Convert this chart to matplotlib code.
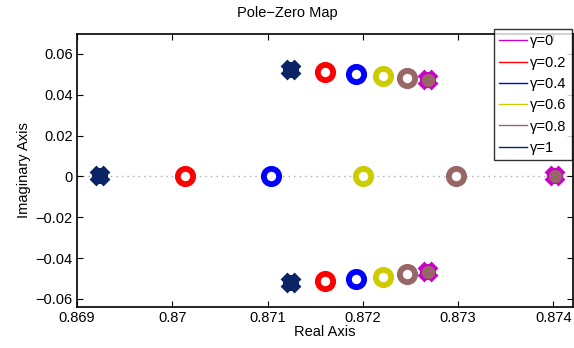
import matplotlib
matplotlib.use("Agg")
import matplotlib.pyplot as plt
from matplotlib.lines import Line2D

plt.rcParams['font.family'] = ['Liberation Sans', 'DejaVu Sans']

labels = ['γ=0', 'γ=0.2', 'γ=0.4', 'γ=0.6', 'γ=0.8', 'γ=1']
colors = ['#cc00cc', '#ff0000', '#0000ff', '#cccc00', '#996666', '#0a2466']
markers = ['x', 'o', 'o', 'o', 'o', 'x']
# complex pair (real, imag) and real-axis root for each gamma
pair_real = [0.87268, 0.87160, 0.87193, 0.87221, 0.87246, 0.87125]
pair_imag = [0.047, 0.051, 0.050, 0.049, 0.048, 0.052]
axis_real = [0.87402, 0.87013, 0.87104, 0.87200, 0.87298, 0.86924]

fig = plt.figure(figsize=(5.74, 3.48), dpi=100)
ax = fig.add_axes([0.134, 0.118, 0.865, 0.784])

ax.axhline(0, color='#aaaaaa', linestyle=(0, (1, 3)), linewidth=1.0, zorder=1)

for lab, c, m, pr, pi, ar in zip(labels, colors, markers, pair_real, pair_imag, axis_real):
    xs = [pr, pr, ar]
    ys = [pi, -pi, 0]
    if m == 'o':
        ax.plot(xs, ys, linestyle='none', marker='o', markersize=11, markeredgewidth=4.2,
                markerfacecolor='white', markeredgecolor=c, zorder=3)
    else:
        ax.plot(xs, ys, linestyle='none', marker='x', markersize=9.5, markeredgewidth=7,
                color=c, zorder=3)
        ax.plot(xs, ys, linestyle='none', marker='+', markersize=11.5, markeredgewidth=7,
                color=c, zorder=3)

# brown overlay on magenta (gamma=0) markers
ax.plot([pair_real[0], pair_real[0], axis_real[0]], [pair_imag[0], -pair_imag[0], 0],
        linestyle='none', marker='o', markersize=9.5, markeredgewidth=0,
        markerfacecolor='#996666', zorder=4)

ax.set_xlim(0.869, 0.87421)
ax.set_ylim(-0.0639, 0.0697)
ax.set_xticks([0.869, 0.870, 0.871, 0.872, 0.873, 0.874])
ax.set_xticklabels(['0.869', '0.87', '0.871', '0.872', '0.873', '0.874'])
ax.set_yticks([-0.06, -0.04, -0.02, 0, 0.02, 0.04, 0.06])
ax.set_yticklabels(['\u22120.06', '\u22120.04', '\u22120.02', '0', '0.02', '0.04', '0.06'])
ax.tick_params(direction='in', top=True, right=True, labelsize=10.5, length=4, width=0.8, pad=3)
for s in ax.spines.values():
    s.set_linewidth(1.2)

ax.set_xlabel('Real Axis', fontsize=10.5, labelpad=0)
ax.set_ylabel('Imaginary Axis', fontsize=10.5, labelpad=3)
fig.text(0.5, 0.962, 'Pole\u2212Zero Map', ha='center', va='center', fontsize=10.5)

handles = [Line2D([0], [0], color=c, linewidth=1) for c in colors]
leg = fig.legend(handles, labels, loc='upper right', bbox_to_anchor=(0.996, 0.916),
                 fontsize=10.5, frameon=True, fancybox=False, edgecolor='black',
                 handlelength=1.9, handletextpad=0.25, borderpad=0.35, labelspacing=0.5,
                 borderaxespad=0)
leg.get_frame().set_linewidth(1.0)

fig.savefig('out.png', dpi=100)
